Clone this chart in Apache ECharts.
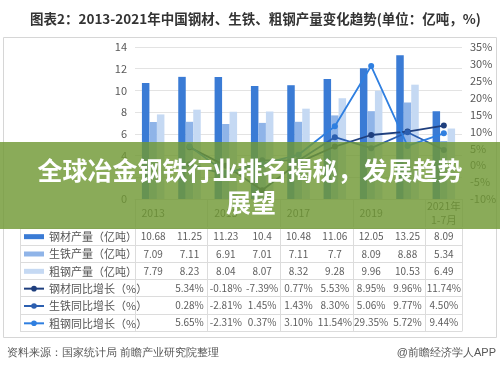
<!DOCTYPE html>
<html><head><meta charset="utf-8">
<script src="https://cdn.jsdelivr.net/npm/echarts@6/dist/echarts.min.js"></script>
<style>html,body{margin:0;padding:0;background:#fff}#c{width:500px;height:372px}</style>
</head><body><div id="c"></div>
<script>
const categories = ['2013','2014','2015','2016','2017','2018','2019','2020','2021年\n1-7月'];
const steelProducts = [10.68, 11.25, 11.23, 10.4, 10.48, 11.06, 12.05, 13.25, 8.09];
const pigIron = [7.09, 7.11, 6.91, 7.01, 7.11, 7.7, 8.09, 8.88, 5.34];
const crudeSteel = [7.79, 8.23, 8.04, 8.07, 8.32, 9.28, 9.96, 10.53, 6.49];
const steelProductsYoY = [null, 5.34, -0.18, -7.39, 0.77, 5.53, 8.95, 9.96, 11.74];
const pigIronYoY = [null, 0.28, -2.81, 1.45, 1.43, 8.30, 5.06, 9.77, 4.50];
const crudeSteelYoY = [null, 5.65, -2.31, 0.37, 3.10, 11.54, 29.35, 5.72, 9.44];
const leftTicks = {min: 0, max: 14, interval: 2};
const rightTicks = {min: -10, max: 35, interval: 5};
const seriesNames = ['钢材产量（亿吨）','生铁产量（亿吨）','粗钢产量（亿吨）','钢材同比增长（%）','生铁同比增长（%）','粗钢同比增长（%）'];

const FONT = "'Noto Sans CJK SC', sans-serif";
const colors = ['#3a7bd5', '#8fb4e8', '#c5d9f3', '#1f3f7e', '#2c5fb0', '#2f7fe0'];
const gridColor = '#dcdcdc';
const tableRows = [steelProducts, pigIron, crudeSteel, steelProductsYoY, pigIronYoY, crudeSteelYoY];

const chart = echarts.init(document.getElementById('c'), null, {renderer: 'canvas'});

const tableSeries = tableRows.map((row, r) => ({
  type: 'scatter', name: 't' + r, xAxisIndex: 1, yAxisIndex: 2, silent: true,
  symbolSize: 0, itemStyle: {color: 'transparent'},
  data: row.map((v, i) => v === null ? null : [i, r, v]).filter(d => d),
  label: {show: true, position: 'inside', color: '#333', fontSize: 10, fontFamily: FONT,
    formatter: p => r < 3 ? String(p.value[2]) : p.value[2].toFixed(2) + '%'}
}));

const barIcon = 'path://M0,0M0,1h20v5h-20zM20,7';

chart.setOption({
  animation: false,
  textStyle: {fontFamily: FONT},
  title: {text: '图表2：2013-2021年中国钢材、生铁、粗钢产量变化趋势(单位：亿吨，%)', left: 25, top: 7,
    textStyle: {fontSize: 13.5, fontWeight: 'bold', color: '#333', fontFamily: FONT}},
  legend: {
    orient: 'vertical', left: 23, top: 228, padding: 0, itemGap: 0, itemWidth: 20, itemHeight: 7,
    selectedMode: false,
    textStyle: {fontSize: 11, color: '#555', lineHeight: 17.33, fontFamily: FONT},
    data: [
      {name: seriesNames[0], icon: barIcon}, {name: seriesNames[1], icon: barIcon}, {name: seriesNames[2], icon: barIcon},
      seriesNames[3], seriesNames[4], seriesNames[5]
    ]
  },
  grid: [
    {left: 135, right: 38, top: 47, bottom: 173},
    {left: 135, right: 38, top: 228, bottom: 41}
  ],
  xAxis: [
    {type: 'category', gridIndex: 0, data: categories,
      axisLine: {lineStyle: {color: gridColor}},
      axisTick: {show: true, length: 28, lineStyle: {color: gridColor}},
      axisLabel: {color: '#595959', fontSize: 10.5, lineHeight: 14, margin: 14, verticalAlign: 'middle', fontFamily: FONT}},
    {type: 'category', gridIndex: 1, data: categories,
      axisLine: {show: true, lineStyle: {color: gridColor}}, axisTick: {show: false}, axisLabel: {show: false},
      splitLine: {show: true, lineStyle: {color: gridColor}}}
  ],
  yAxis: [
    {type: 'value', gridIndex: 0, min: leftTicks.min, max: leftTicks.max, interval: leftTicks.interval,
      axisLine: {show: false}, axisTick: {show: false},
      axisLabel: {color: '#595959', fontSize: 11, margin: 8, fontFamily: FONT},
      splitLine: {lineStyle: {color: '#e3e3e3'}}},
    {type: 'value', gridIndex: 0, min: rightTicks.min, max: rightTicks.max, interval: rightTicks.interval, position: 'right',
      axisLine: {show: false}, axisTick: {show: false}, splitLine: {show: false},
      axisLabel: {color: '#595959', fontSize: 11, margin: 8, formatter: '{value}%', fontFamily: FONT}},
    {type: 'category', gridIndex: 1, inverse: true, data: ['r0','r1','r2','r3','r4','r5'],
      axisLine: {show: true, lineStyle: {color: gridColor}},
      axisTick: {show: true, length: 115, lineStyle: {color: gridColor}},
      axisLabel: {show: false},
      splitLine: {show: true, lineStyle: {color: gridColor}}}
  ],
  series: [
    {type: 'bar', name: seriesNames[0], data: steelProducts, barWidth: 7.5, barGap: '0%', itemStyle: {color: colors[0]}},
    {type: 'bar', name: seriesNames[1], data: pigIron, barWidth: 7.5, barGap: '0%', itemStyle: {color: colors[1]}},
    {type: 'bar', name: seriesNames[2], data: crudeSteel, barWidth: 7.5, barGap: '0%', itemStyle: {color: colors[2]}},
    {type: 'line', name: seriesNames[3], yAxisIndex: 1, data: steelProductsYoY, symbol: 'circle', symbolSize: 6,
      lineStyle: {width: 1.8, color: colors[3]}, itemStyle: {color: colors[3]}},
    {type: 'line', name: seriesNames[4], yAxisIndex: 1, data: pigIronYoY, symbol: 'circle', symbolSize: 6,
      lineStyle: {width: 1.8, color: colors[4]}, itemStyle: {color: colors[4]}},
    {type: 'line', name: seriesNames[5], yAxisIndex: 1, data: crudeSteelYoY, symbol: 'circle', symbolSize: 6,
      lineStyle: {width: 1.8, color: colors[5]}, itemStyle: {color: colors[5]}}
  ].concat(tableSeries),
  graphic: [
    {type: 'rect', shape: {x: 3.5, y: 37.5, width: 493, height: 300}, style: {fill: 'none', stroke: '#d6d6d6', lineWidth: 1}, silent: true},
    {type: 'line', shape: {x1: 20.5, y1: 228, x2: 20.5, y2: 331}, style: {stroke: gridColor, lineWidth: 1}, silent: true},
    {type: 'text', left: 7, top: 347, style: {text: '资料来源：国家统计局 前瞻产业研究院整理', fontSize: 11, fill: '#555', font: "11px 'Noto Sans CJK SC', sans-serif"}},
    {type: 'text', right: 4, top: 347, style: {text: '@前瞻经济学人APP', fontSize: 11, fill: '#555', font: "11px 'Noto Sans CJK SC', sans-serif"}},
    {type: 'rect', z: 100, shape: {x: 0, y: 142, width: 500, height: 87}, style: {fill: 'rgba(112,152,52,0.82)'}, silent: true},
    {type: 'text', z: 101, x: 250, y: 170, style: {text: '全球冶金钢铁行业排名揭秘，发展趋势', fill: '#fff', align: 'center', verticalAlign: 'middle', font: "bold 25px 'Noto Sans CJK SC', sans-serif"}},
    {type: 'text', z: 101, x: 251, y: 202, style: {text: '展望', fill: '#fff', align: 'center', verticalAlign: 'middle', font: "bold 25px 'Noto Sans CJK SC', sans-serif"}}
  ]
});
</script></body></html>
